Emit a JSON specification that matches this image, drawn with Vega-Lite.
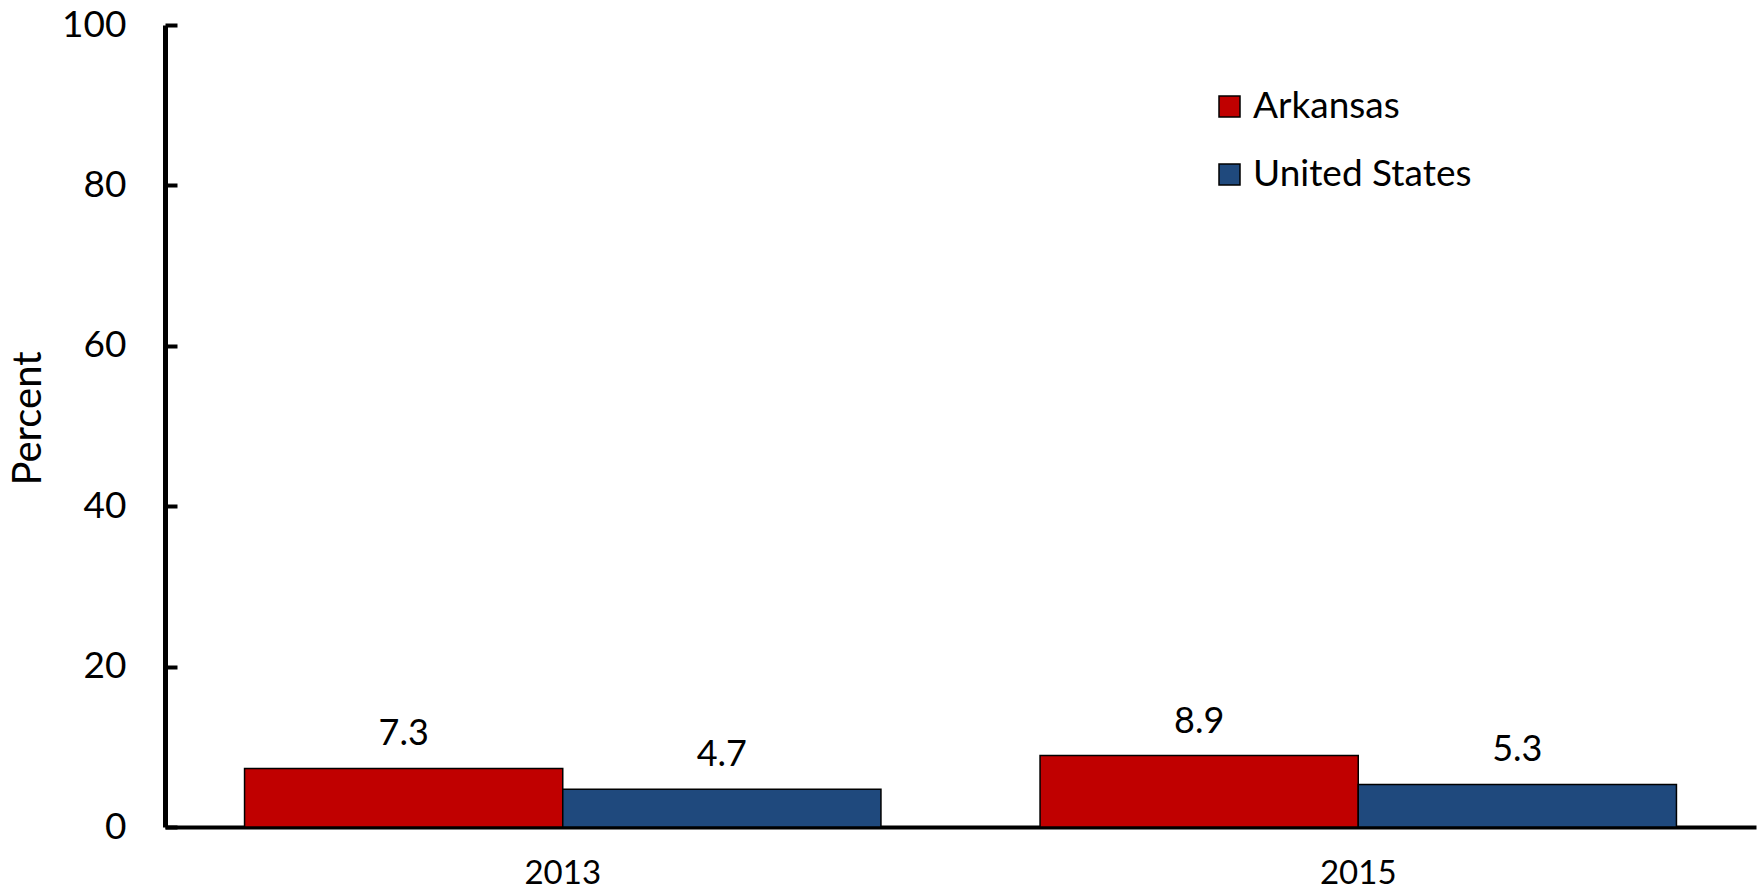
{
  "$schema": "https://vega.github.io/schema/vega-lite/v6.json",
  "width": 1591,
  "height": 802,
  "autosize": {"type": "none"},
  "padding": {"left": 165, "top": 25, "right": 3, "bottom": 63},
  "background": "white",
  "config": {"font": "Lato", "view": {"stroke": null}},
  "data": {
    "values": [
      {"year": "2013", "group": "Arkansas", "value": 7.3},
      {"year": "2013", "group": "United States", "value": 4.7},
      {"year": "2015", "group": "Arkansas", "value": 8.9},
      {"year": "2015", "group": "United States", "value": 5.3}
    ]
  },
  "encoding": {
    "x": {
      "field": "year",
      "type": "nominal",
      "scale": {"paddingInner": 0.2, "paddingOuter": 0.1},
      "axis": {
        "title": null,
        "labelAngle": 0,
        "labelFontSize": 33,
        "labelColor": "black",
        "ticks": false,
        "domainWidth": 4,
        "domainColor": "black",
        "labelPadding": 30
      }
    },
    "xOffset": {"field": "group", "type": "nominal", "scale": {"paddingInner": 0, "paddingOuter": 0}},
    "y": {
      "field": "value",
      "type": "quantitative",
      "scale": {"domain": [0, 100], "nice": false},
      "axis": {
        "title": "Percent",
        "titleFontSize": 40,
        "titleFontWeight": "normal",
        "titleColor": "black",
        "titlePadding": 13,
        "titleY": 393,
        "values": [0, 20, 40, 60, 80, 100],
        "grid": false,
        "tickSize": -12,
        "tickWidth": 4,
        "tickColor": "black",
        "domainWidth": 5,
        "domainColor": "black",
        "labelFontSize": 37,
        "labelColor": "black",
        "labelPadding": 51
      }
    }
  },
  "layer": [
    {
      "mark": {"type": "bar", "stroke": "black", "strokeWidth": 1.5},
      "encoding": {
        "color": {
          "field": "group",
          "type": "nominal",
          "scale": {"domain": ["Arkansas", "United States"], "range": ["#C00000", "#1F497D"]},
          "legend": {
            "title": null,
            "orient": "none",
            "legendX": 1046,
            "legendY": 63,
            "padding": 0,
            "symbolType": "square",
            "symbolSize": 441,
            "symbolStrokeColor": "black",
            "symbolStrokeWidth": 1.5,
            "symbolOpacity": 1,
            "labelFontSize": 37,
            "labelColor": "black",
            "labelOffset": 5,
            "labelLimit": 500,
            "rowPadding": 30
          }
        }
      }
    },
    {
      "mark": {"type": "text", "baseline": "alphabetic", "dy": -23, "fontSize": 36, "color": "black"},
      "encoding": {"text": {"field": "value", "type": "quantitative", "format": ".1f"}}
    }
  ]
}
